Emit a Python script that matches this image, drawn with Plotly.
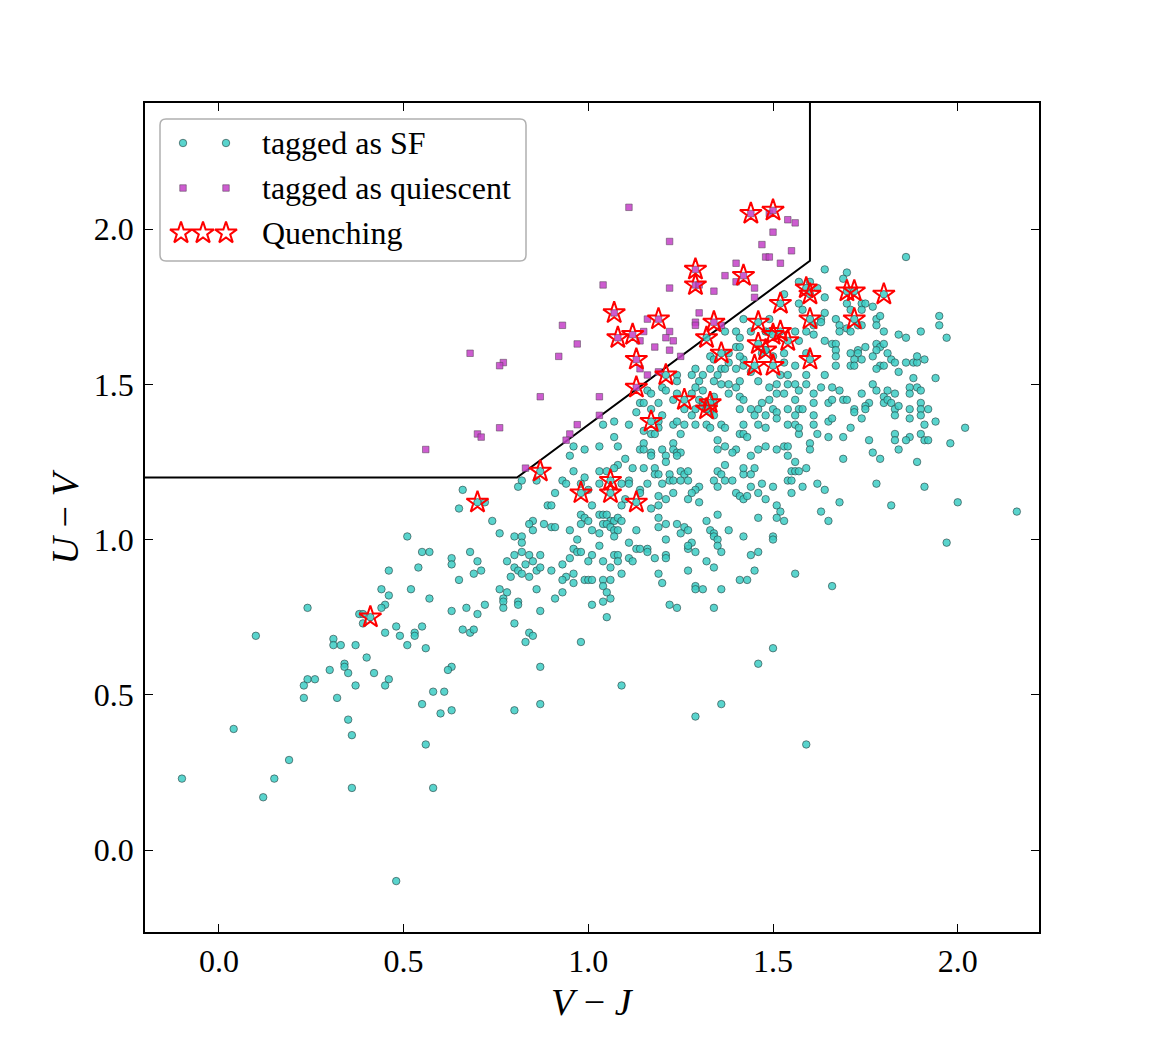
import plotly.graph_objects as go

# ---------------- data ----------------
sf_x = [
 0.24,0.10,0.41,0.38,0.39,0.39,0.31,0.31,0.33,0.37,0.40,0.34,
 0.30,0.34,0.35,0.42,0.24,0.26,0.23,0.37,0.23,0.32,0.35,0.36,0.04,0.19,-0.10,0.15,0.12,0.36,
 0.63,0.62,0.46,0.45,0.87,0.58,0.61,0.55,0.60,0.63,0.80,0.87,0.56,0.58,0.48,
 1.46,1.09,1.36,1.29,1.59,1.50,
 1.62,1.65,1.69,1.60,1.60,1.76,1.83,1.83,1.87,1.86,1.90,1.91,1.92,1.98,1.77,1.84,1.79,1.69,1.89,
 1.62,1.64,1.78,1.91,1.68,1.82,2.00,1.63,1.65,2.16,1.97,1.66,
 0.96,0.99,0.95,0.87,0.96,0.99,0.93,0.94,0.98,0.98,1.00,0.82,0.81,0.86,0.91,0.66,0.70,0.72,0.65,
 0.89,0.90,1.01,0.74,0.85,0.84,0.85,0.88,0.90,0.91,0.98,0.99,1.00,0.98,1.01,0.95,0.76,0.80,0.82,
 0.82,0.97,0.51,0.55,0.57,0.68,0.63,0.63,0.70,0.71,0.69,0.54,0.46,0.65,0.80,0.82,0.84,0.87,0.78,
 0.83,0.85,0.80,0.81,0.82,0.84,0.86,0.87,0.79,0.90,0.93,0.96,0.97,0.98,0.95,1.01,1.00,0.96,0.94,
 0.93,0.96,0.99,1.00,1.01,0.44,0.46,0.52,0.57,0.76,0.78,0.77,0.77,0.77,0.81,0.81,0.86,0.93,0.91,
 1.01,0.45,0.44,0.63,0.67,0.70,0.72,0.87,0.80,0.48,0.45,0.49,0.51,0.53,0.53,0.55,0.56,0.66,0.68,
 0.69,0.84,0.85,0.83,0.98,
 1.07,1.03,1.08,1.15,1.17,1.18,1.25,1.41,1.42,1.43,1.57,1.35,1.15,1.14,1.15,1.17,1.17,1.23,1.23,
 1.24,1.25,1.24,1.20,1.21,1.21,1.10,1.35,1.37,1.40,1.39,1.44,1.46,1.48,1.51,1.53,1.54,1.54,1.56,
 1.37,1.08,1.07,1.12,1.15,1.18,1.03,1.05,1.06,1.06,1.13,1.03,1.11,1.11,1.09,1.16,1.18,1.19,1.20,
 1.22,1.22,1.23,1.25,1.26,1.27,1.25,1.27,1.30,1.29,1.28,1.23,1.19,1.21,1.27,1.30,1.14,1.14,1.10,
 1.34,1.35,1.35,1.36,1.37,1.39,1.42,1.44,1.42,1.45,1.44,1.47,1.50,1.46,1.40,1.41,1.42,1.43,1.48,
 1.54,1.55,1.55,1.56,1.57,1.59,1.55,1.58,1.51,1.52,1.51,1.53,1.46,1.38,1.42,1.50,1.50,1.35,1.32,
 1.33,1.34,1.34,1.35,1.35,1.36,1.26,1.27,1.28,1.27,1.29,1.25,1.24,1.21,1.19,1.19,1.21,1.27,1.19,
 1.17,1.09,1.03,1.04,1.05,1.06,1.07,1.08,1.09,1.04,1.05,1.06,1.07,1.08,1.07,1.03,1.13,1.11,1.03,
 1.13,1.14,1.16,1.16,1.18,1.21,1.21,1.11,1.12,1.07,1.08,1.08,1.04,1.06,1.09,1.19,1.20,1.04,1.06,
 1.04,1.05,1.06,1.04,1.05,1.22,1.24,1.27,1.32,1.34,1.29,1.29,1.31,1.36,1.34,1.44,1.46,1.45,1.41,
 1.43,1.56,
 1.57,1.60,1.53,1.57,1.58,1.42,1.49,1.40,1.41,1.44,1.48,1.49,1.56,1.59,1.57,1.48,1.47,1.50,1.53,
 1.53,1.56,1.59,1.59,1.52,1.54,1.44,1.42,1.42,1.40,1.46,1.49,1.51,1.54,1.56,1.59,1.57,1.56,1.53,
 1.51,1.49,1.47,1.46,1.50,1.51,1.54,1.57,1.58,1.56,1.37,1.40,1.41,1.41,1.38,1.38,1.36,1.37,1.33,
 1.34,1.35,1.34,1.36,1.38,1.40,1.38,1.41,1.42,1.41,1.44,1.45,1.48,1.51,1.54,1.56,1.57,1.48,1.46,
 1.42,1.36,1.37,1.33,1.31,1.30,1.29,1.28,1.29,1.28,1.31,1.30,1.31,1.31,1.32,1.34,1.34,1.33,1.34,
 1.29,1.28,1.24,1.23,1.26,1.24,1.24,1.20,1.21,1.19,1.20,1.19,1.16,1.17,1.14,1.15,1.13,1.17,1.23,
 1.24,1.26,1.29,1.32,1.33,1.04,1.07,1.11,1.19,1.41,
 1.21,1.17,1.26,1.33,1.32,1.36,1.32,1.46,1.46,1.48,1.45,1.50,1.52,1.50,1.52,1.54,1.59,1.60,1.60,1.60,
 1.86,1.64,1.70,1.69,1.62,1.64,1.70,1.74,1.75,1.77,1.74,1.71,1.64,1.63,1.63,1.61,1.61,1.67,1.68,
 1.68,1.70,1.71,1.73,1.74,1.78,1.78,1.79,1.80,1.84,1.86,1.90,1.95,1.95,1.97,1.64,1.66,1.67,1.67,
 1.67,1.67,1.71,1.73,1.73,1.74,1.72,1.71,1.72,1.75,1.78,1.79,1.80,1.78,1.77,1.81,1.82,1.83,1.79,
 1.80,1.78,1.84,1.86,1.88,1.89,1.89,1.91,1.88,1.94,1.64,1.63,1.66,1.68,1.61,1.61,1.65,1.66,1.69,
 1.70,1.74,1.77,1.78,1.76,1.75,1.75,1.72,1.72,1.74,1.80,1.81,1.80,1.81,1.82,1.83,1.83,1.83,1.84,
 1.87,1.87,1.89,1.90,1.87,1.87,1.90,1.90,1.90,1.92,1.91,1.94,2.02,1.61,1.61,1.65,1.66,1.71,
 1.70,1.72,1.80,1.72,
]
sf_y = [
 0.78,0.69,0.75,0.76,0.76,0.73,0.68,0.66,0.66,0.66,0.62,0.60,
 0.58,0.59,0.57,0.57,0.55,0.55,0.53,0.53,0.49,0.49,0.42,0.37,0.39,0.29,0.23,0.23,0.17,0.20,
 0.59,0.58,0.55,0.53,0.59,0.51,0.51,0.47,0.44,0.45,0.45,0.47,0.34,0.20,-0.10,
 0.60,0.53,0.47,0.43,0.34,0.65,
 1.34,1.33,1.33,1.31,1.29,1.32,1.34,1.32,1.33,1.32,1.34,1.32,1.32,1.31,1.28,1.29,1.26,1.26,1.25,
 1.18,1.16,1.18,1.17,1.12,1.11,1.12,1.09,1.06,1.09,0.99,0.85,
 1.30,1.29,1.27,1.22,1.22,1.20,1.19,1.18,1.18,1.15,1.16,1.19,1.17,1.19,1.15,1.16,1.12,1.12,1.10,
 1.11,1.11,1.11,1.06,1.06,1.05,1.03,1.05,1.04,1.04,1.08,1.07,1.06,1.05,1.03,1.03,1.02,1.01,1.01,
 0.99,1.00,1.01,0.96,0.96,0.96,0.94,0.92,0.93,0.90,0.89,0.91,0.90,0.87,0.95,0.96,0.95,0.95,0.93,
 0.92,0.93,0.91,0.90,0.89,0.88,0.90,0.91,0.88,0.90,0.92,0.97,0.96,0.96,0.94,0.95,0.93,0.89,0.88,
 0.87,0.86,0.87,0.87,0.87,0.84,0.82,0.84,0.81,0.84,0.83,0.81,0.80,0.78,0.80,0.79,0.84,0.83,0.81,
 0.79,0.79,0.78,0.77,0.78,0.76,0.79,0.77,0.73,0.72,0.70,0.69,0.66,0.70,0.69,0.72,0.65,0.71,0.70,
 0.71,0.70,0.69,0.67,0.67,
 1.33,1.30,1.30,1.35,1.34,1.34,1.34,1.34,1.34,1.33,1.34,1.32,1.31,1.29,1.29,1.28,1.27,1.31,1.29,
 1.28,1.28,1.27,1.29,1.27,1.25,1.26,1.29,1.30,1.29,1.28,1.27,1.29,1.30,1.29,1.30,1.30,1.27,1.25,
 1.24,1.24,1.23,1.23,1.23,1.23,1.22,1.22,1.19,1.15,1.12,1.18,1.19,1.18,1.18,1.18,1.21,1.21,1.18,
 1.21,1.19,1.19,1.22,1.21,1.22,1.19,1.19,1.17,1.16,1.15,1.15,1.14,1.13,1.13,1.12,1.16,1.15,1.13,
 1.19,1.17,1.22,1.21,1.19,1.19,1.21,1.21,1.23,1.23,1.17,1.18,1.17,1.15,1.15,1.14,1.13,1.14,1.13,
 1.19,1.19,1.22,1.22,1.22,1.23,1.15,1.17,1.11,1.09,1.07,1.06,1.07,1.03,1.01,1.01,1.00,1.08,1.06,
 1.03,1.02,1.01,1.00,0.98,0.96,1.04,1.03,0.99,0.97,0.96,1.02,1.05,1.05,1.07,1.04,1.00,0.98,1.11,
 1.10,1.11,1.08,1.08,1.08,1.06,1.06,1.07,1.06,1.05,1.05,1.04,1.03,1.03,1.01,1.02,1.03,0.99,0.98,
 0.97,0.97,0.97,0.96,0.94,0.95,0.94,0.94,0.93,0.95,0.95,0.93,0.93,0.91,0.89,0.89,0.86,0.87,0.87,
 0.85,0.83,0.81,0.80,0.75,0.79,0.78,0.90,0.93,0.91,0.85,0.84,0.84,0.84,0.78,0.95,0.96,0.90,0.87,
 0.87,0.89,
 1.83,1.83,1.79,1.76,1.74,1.71,1.71,1.67,1.65,1.67,1.67,1.67,1.67,1.67,1.64,1.61,1.60,1.59,1.60,
 1.57,1.56,1.60,1.53,1.53,1.53,1.54,1.56,1.58,1.55,1.51,1.49,1.50,1.50,1.50,1.50,1.48,1.45,1.47,
 1.47,1.45,1.44,1.42,1.42,1.41,1.42,1.42,1.42,1.40,1.67,1.62,1.62,1.59,1.57,1.60,1.55,1.55,1.59,
 1.58,1.53,1.51,1.50,1.50,1.49,1.47,1.46,1.45,1.42,1.42,1.40,1.40,1.39,1.37,1.37,1.36,1.36,1.37,
 1.37,1.37,1.36,1.55,1.53,1.51,1.55,1.53,1.49,1.47,1.48,1.45,1.44,1.43,1.42,1.46,1.44,1.41,1.40,
 1.42,1.40,1.47,1.45,1.42,1.53,1.51,1.49,1.48,1.44,1.40,1.38,1.48,1.47,1.44,1.44,1.41,1.42,1.37,
 1.38,1.37,1.37,1.37,1.36,1.37,1.38,1.37,1.36,1.51,
 1.53,1.38,1.45,1.44,1.42,1.60,1.65,1.70,1.63,1.61,1.56,1.56,1.76,1.66,1.67,1.64,1.81,1.79,1.71,1.58,
 1.91,1.87,1.86,1.84,1.81,1.78,1.76,1.76,1.76,1.75,1.74,1.74,1.73,1.71,1.70,1.69,1.66,1.71,1.69,
 1.67,1.68,1.67,1.69,1.69,1.71,1.69,1.72,1.67,1.66,1.65,1.67,1.72,1.69,1.65,1.64,1.63,1.63,1.61,
 1.59,1.56,1.60,1.61,1.60,1.58,1.58,1.56,1.56,1.62,1.63,1.62,1.63,1.61,1.59,1.60,1.58,1.57,1.56,
 1.56,1.55,1.54,1.57,1.57,1.57,1.59,1.58,1.52,1.52,1.53,1.49,1.49,1.48,1.47,1.44,1.44,1.45,1.45,
 1.45,1.47,1.50,1.48,1.44,1.43,1.42,1.42,1.41,1.39,1.46,1.48,1.44,1.45,1.44,1.47,1.42,1.40,1.43,
 1.49,1.47,1.49,1.48,1.42,1.39,1.44,1.42,1.40,1.42,1.37,1.38,1.36,1.40,1.37,1.38,1.39,1.36,
 1.80,1.80,1.79,1.71,
]

q_x = [0.93,0.97,0.92,0.68,0.77,0.76,0.87,0.97,0.76,0.70,0.71,0.56,0.95,0.94,0.83,
       1.11,1.22,1.04,1.22,1.29,1.30,1.34,1.37,1.40,1.40,1.45,1.45,1.47,1.48,1.49,1.50,1.52,
       1.54,1.56,1.55,1.49,1.03,1.03,1.16,1.15,1.14,1.22,1.21,1.23,1.18,1.22,1.25,1.30,1.29,
       1.29,1.36,1.14,1.16,1.19,
       1.44,1.50,1.29,1.42,1.07,1.08,1.12,1.13,1.13,1.19,1.34]
q_y = [1.69,1.63,1.59,1.60,1.57,1.56,1.46,1.37,1.36,1.34,1.33,1.29,1.34,1.32,1.23,
       2.07,1.96,1.82,1.81,1.82,1.82,1.80,1.85,1.89,1.83,1.81,1.78,1.95,1.91,1.91,1.99,1.89,
       2.03,2.02,1.93,2.05,1.46,1.40,1.71,1.67,1.64,1.67,1.65,1.64,1.62,1.61,1.59,1.73,1.70,
       1.69,1.69,1.55,1.53,1.54,
       2.05,2.06,1.87,1.85,1.73,1.65,1.66,1.58,1.49,1.71,1.70]

qn_x = [0.41,0.70,0.87,0.98,1.06,1.06,1.13,1.17,1.13,1.21,1.13,1.07,1.08,1.12,1.19,1.29,1.29,
        1.42,1.44,1.50,1.34,1.32,1.36,1.26,1.33,1.32,1.46,1.46,1.48,1.45,1.50,1.52,1.50,1.52,
        1.54,1.59,1.60,1.60,1.60,1.70,1.72,1.80,1.72]
qn_y = [0.75,1.12,1.22,1.15,1.19,1.15,1.12,1.38,1.49,1.53,1.58,1.73,1.65,1.66,1.71,1.87,1.82,
        1.85,2.05,2.06,1.70,1.65,1.60,1.45,1.44,1.42,1.70,1.63,1.61,1.56,1.56,1.76,1.66,1.67,
        1.64,1.81,1.79,1.71,1.58,1.80,1.80,1.79,1.71]

# UVJ selection boundary
bound_x = [-0.3, 0.807, 1.6, 1.6]
bound_y = [1.2, 1.2, 1.898, 2.6]

x_ticks = [0.0, 0.5, 1.0, 1.5, 2.0]
y_ticks = [0.0, 0.5, 1.0, 1.5, 2.0]
tick_text = ["0.0", "0.5", "1.0", "1.5", "2.0"]

legend_labels = ["tagged as SF", "tagged as quiescent", "Quenching"]

# ---------------- styles ----------------
FONT = "Liberation Serif"
SF_FILL = "rgba(60,204,196,0.85)"
SF_EDGE = "rgba(40,60,60,0.75)"
Q_FILL = "rgba(196,64,200,0.85)"
Q_EDGE = "rgba(90,70,90,0.7)"

fig = go.Figure()

fig.add_trace(go.Scatter(x=bound_x, y=bound_y, mode="lines",
                         line=dict(color="black", width=2), showlegend=False,
                         hoverinfo="skip"))
fig.add_trace(go.Scatter(x=sf_x, y=sf_y, mode="markers", name=legend_labels[0],
                         marker=dict(symbol="circle", size=7.5, color=SF_FILL,
                                     line=dict(color=SF_EDGE, width=0.8)),
                         showlegend=False))
fig.add_trace(go.Scatter(x=q_x, y=q_y, mode="markers", name=legend_labels[1],
                         marker=dict(symbol="square", size=6.5, color=Q_FILL,
                                     line=dict(color=Q_EDGE, width=0.8)),
                         showlegend=False))
fig.add_trace(go.Scatter(x=qn_x, y=qn_y, mode="markers", name=legend_labels[2],
                         marker=dict(symbol="star-open", size=16.5, color="red",
                                     line=dict(color="red", width=2)),
                         showlegend=False))

# ---------------- custom legend (layout, in a fixed 0..1 overlay axis) ----------------
W, H = 1155, 1037
L, R, T, B = 145, 1039, 103, 932
def px2fx(p):
    return (p - L) / (R - L)
def px2fy(p):
    return (B - p) / (B - T)

row_y = [px2fy(143), px2fy(188), px2fy(233)]
fig.add_trace(go.Scatter(x=[px2fx(183), px2fx(226)], y=[row_y[0]] * 2, mode="markers",
                         xaxis="x2", yaxis="y2", showlegend=False, hoverinfo="skip",
                         marker=dict(symbol="circle", size=7.5, color=SF_FILL,
                                     line=dict(color=SF_EDGE, width=0.8))))
fig.add_trace(go.Scatter(x=[px2fx(183), px2fx(226)], y=[row_y[1]] * 2, mode="markers",
                         xaxis="x2", yaxis="y2", showlegend=False, hoverinfo="skip",
                         marker=dict(symbol="square", size=6.5, color=Q_FILL,
                                     line=dict(color=Q_EDGE, width=0.8))))
fig.add_trace(go.Scatter(x=[px2fx(181), px2fx(203), px2fx(226)], y=[row_y[2]] * 3,
                         mode="markers", xaxis="x2", yaxis="y2", showlegend=False,
                         hoverinfo="skip",
                         marker=dict(symbol="star-open", size=16.5, color="red",
                                     line=dict(color="red", width=2))))

# rounded legend box
x0, x1 = px2fx(160), px2fx(526)
y0, y1 = px2fy(261), px2fy(119)
rx, ry = 6 / (R - L), 6 / (B - T)
path = (f"M {x0+rx},{y1} L {x1-rx},{y1} Q {x1},{y1} {x1},{y1-ry} "
        f"L {x1},{y0+ry} Q {x1},{y0} {x1-rx},{y0} L {x0+rx},{y0} "
        f"Q {x0},{y0} {x0},{y0+ry} L {x0},{y1-ry} Q {x0},{y1} {x0+rx},{y1} Z")
shapes = [dict(type="path", path=path, xref="paper", yref="paper",
               line=dict(color="#b0b0b0", width=1.5), fillcolor="white", layer="below")]

annotations = []
for lab, yy in zip(legend_labels, row_y):
    annotations.append(dict(text=lab, x=px2fx(260), y=yy, xref="paper", yref="paper",
                            xanchor="left", yanchor="middle", showarrow=False,
                            font=dict(family=FONT, size=32, color="black")))
annotations.append(dict(text="<i>V</i> \u2212 <i>J</i>", x=0.5, y=px2fy(1002),
                        xref="paper", yref="paper", xanchor="center", yanchor="middle",
                        showarrow=False, font=dict(family=FONT, size=38, color="black")))
annotations.append(dict(text="<i>U</i> \u2212 <i>V</i>", x=px2fx(64), y=0.5,
                        xref="paper", yref="paper", xanchor="center", yanchor="middle",
                        textangle=-90, showarrow=False,
                        font=dict(family=FONT, size=38, color="black")))

axis_common = dict(ticks="inside", ticklen=8, tickwidth=1.2, tickcolor="black",
                   showline=True, linecolor="black", linewidth=1.5, mirror="ticks",
                   showgrid=False, zeroline=False,
                   tickfont=dict(family=FONT, size=32, color="black"))

fig.update_layout(
    width=W, height=H,
    margin=dict(l=L, r=W - R, t=T, b=H - B, pad=0),
    paper_bgcolor="white", plot_bgcolor="white",
    xaxis=dict(range=[-0.2, 2.22], tickvals=x_ticks, ticktext=tick_text,
               ticklabelstandoff=0, **axis_common),
    yaxis=dict(range=[-0.264, 2.406], tickvals=y_ticks, ticktext=tick_text,
               ticklabelstandoff=3, **axis_common),
    xaxis2=dict(overlaying="x", range=[0, 1], visible=False, fixedrange=True),
    yaxis2=dict(overlaying="y", range=[0, 1], visible=False, fixedrange=True),
    shapes=shapes, annotations=annotations, showlegend=False,
)

fig.write_html("out.html")
